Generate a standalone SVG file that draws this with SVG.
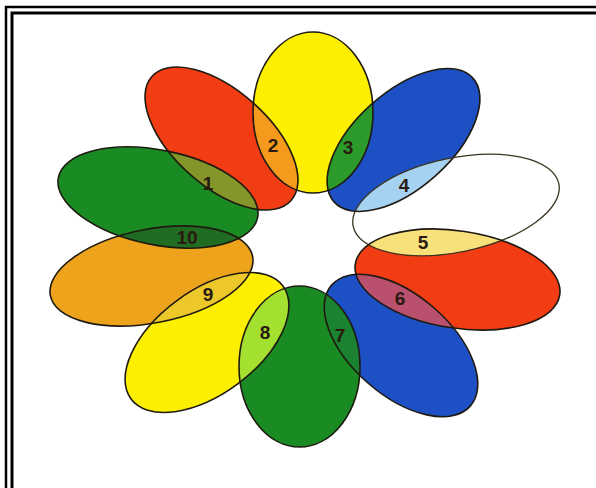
<svg xmlns="http://www.w3.org/2000/svg" width="596" height="488" viewBox="0 0 596 488">
<style>
.o{fill:none;stroke:#1f1a10;stroke-width:1.6}
.ow{fill:none;stroke:#3a3320;stroke-width:1.3}
.n{font-family:"Liberation Sans",Arial,sans-serif;font-size:19px;font-weight:bold;fill:#2a1a10;text-anchor:middle}
.frame{stroke:#000;fill:none}
</style>
<defs>
<ellipse id="e0" cx="313" cy="112.5" rx="60" ry="80.5"/>
<ellipse id="e1" cx="403.5" cy="140" rx="93" ry="48" transform="rotate(-41.7 403.5 140)"/>
<ellipse id="e2" cx="456" cy="205" rx="105" ry="47" transform="rotate(-11.7 456 205)"/>
<ellipse id="e3" cx="457.5" cy="279.5" rx="103.4" ry="48.6" transform="rotate(8.6 457.5 279.5)"/>
<ellipse id="e4" cx="401" cy="345.5" rx="92" ry="50" transform="rotate(41 401 345.5)"/>
<ellipse id="e5" cx="299.5" cy="366.5" rx="60.5" ry="80.5"/>
<ellipse id="e6" cx="207" cy="342.5" rx="94.6" ry="51.6" transform="rotate(-36.6 207 342.5)"/>
<ellipse id="e7" cx="151.5" cy="276" rx="103" ry="46.8" transform="rotate(-11 151.5 276)"/>
<ellipse id="e8" cx="158" cy="197.5" rx="101.6" ry="47.3" transform="rotate(11.4 158 197.5)"/>
<ellipse id="e9" cx="221.5" cy="138.5" rx="93.2" ry="47.7" transform="rotate(41.7 221.5 138.5)"/>
<clipPath id="c0"><use href="#e0"/></clipPath>
<clipPath id="c1"><use href="#e1"/></clipPath>
<clipPath id="c2"><use href="#e2"/></clipPath>
<clipPath id="c3"><use href="#e3"/></clipPath>
<clipPath id="c4"><use href="#e4"/></clipPath>
<clipPath id="c5"><use href="#e5"/></clipPath>
<clipPath id="c6"><use href="#e6"/></clipPath>
<clipPath id="c7"><use href="#e7"/></clipPath>
<clipPath id="c8"><use href="#e8"/></clipPath>
<clipPath id="c9"><use href="#e9"/></clipPath>
</defs>
<rect width="596" height="488" fill="#fff"/>
<g id="frame">
<path class="frame" d="M6 488 V7 H596" stroke-width="2.5"/>
<path class="frame" d="M12 488 V13 H596" stroke-width="3"/>
</g>
<g id="petals">
<g id="petal-yellow-top"><use href="#e0" fill="#fcf000"/></g>
<g id="petal-blue-top"><use href="#e1" fill="#1c50c4"/></g>
<g id="petal-white"><use href="#e2" fill="#ffffff"/></g>
<g id="petal-red-right"><use href="#e3" fill="#f23c14"/></g>
<g id="petal-blue-bottom"><use href="#e4" fill="#1c50c4"/></g>
<g id="petal-green-bottom"><use href="#e5" fill="#1a8a22"/></g>
<g id="petal-yellow-bottom"><use href="#e6" fill="#fcf000"/></g>
<g id="petal-orange"><use href="#e7" fill="#eda41c"/></g>
<g id="petal-green-left"><use href="#e8" fill="#1a8a22"/></g>
<g id="petal-red-top"><use href="#e9" fill="#f23c14"/></g>
</g>
<g id="overlaps">
<g id="ov1" clip-path="url(#c8)"><use href="#e9" fill="#84962a"/></g>
<g id="ov2" clip-path="url(#c9)"><use href="#e0" fill="#f59a1c"/></g>
<g id="ov3" clip-path="url(#c0)"><use href="#e1" fill="#2c9a2a"/></g>
<g id="ov4" clip-path="url(#c1)"><use href="#e2" fill="#a6d2f2"/></g>
<g id="ov5" clip-path="url(#c2)"><use href="#e3" fill="#f8e07a"/></g>
<g id="ov6" clip-path="url(#c3)"><use href="#e4" fill="#b8506e"/></g>
<g id="ov7" clip-path="url(#c4)"><use href="#e5" fill="#1a8230"/></g>
<g id="ov8" clip-path="url(#c5)"><use href="#e6" fill="#a4e030"/></g>
<g id="ov9" clip-path="url(#c6)"><use href="#e7" fill="#ecc82a"/></g>
<g id="ov10" clip-path="url(#c7)"><use href="#e8" fill="#206c22"/></g>
</g>
<g id="outlines">
<use href="#e0" class="o"/>
<use href="#e1" class="o"/>
<use href="#e2" class="ow"/>
<use href="#e3" class="o"/>
<use href="#e4" class="o"/>
<use href="#e5" class="o"/>
<use href="#e6" class="o"/>
<use href="#e7" class="o"/>
<use href="#e8" class="o"/>
<use href="#e9" class="o"/>
</g>
<g id="labels">
<text class="n" x="208" y="190">1</text>
<text class="n" x="273" y="152">2</text>
<text class="n" x="348" y="154">3</text>
<text class="n" x="404" y="192">4</text>
<text class="n" x="423" y="249">5</text>
<text class="n" x="400" y="305">6</text>
<text class="n" x="340" y="342">7</text>
<text class="n" x="265" y="339">8</text>
<text class="n" x="208" y="301">9</text>
<text class="n" x="187" y="244">10</text>
</g>
</svg>
